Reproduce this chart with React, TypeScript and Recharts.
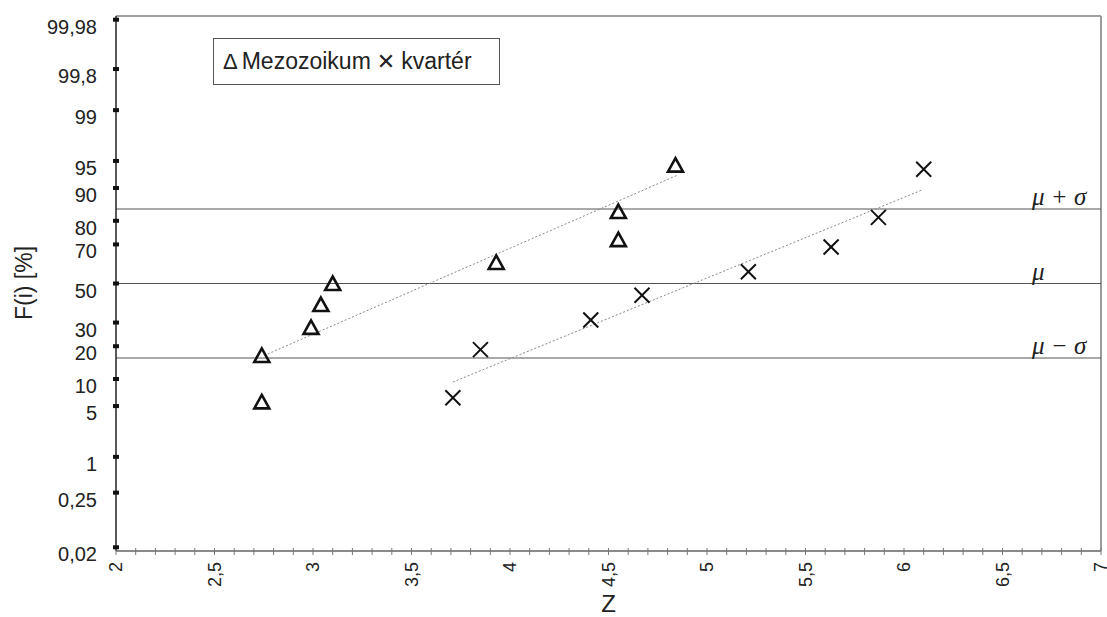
import React from 'react'
import { ScatterChart, Scatter, XAxis, YAxis, ReferenceLine, Legend } from 'recharts'

// Z values and cumulative frequencies F(i) in %
const mezozoikumZ = [2.74, 2.74, 2.99, 3.04, 3.1, 3.93, 4.55, 4.55, 4.84]
const mezozoikumF = [5.6, 16.7, 27.8, 38.9, 50, 61.1, 72.2, 83.3, 94.4]
const kvarterZ = [3.71, 3.85, 4.41, 4.67, 5.21, 5.63, 5.87, 6.1]
const kvarterF = [6.25, 18.75, 31.25, 43.75, 56.25, 68.75, 81.25, 93.75]

// fitted lines (end points)
const mezozoikumTrendZ = [2.77, 4.85]
const mezozoikumTrendF = [17.2, 92.7]
const kvarterTrendZ = [3.71, 6.09]
const kvarterTrendF = [9.3, 89.5]

// mu - sigma, mu, mu + sigma
const sigmaF = [15.87, 50, 84.13]
const sigmaLabels = ['μ − σ', 'μ', 'μ + σ']

const yTickF = [0.02, 0.25, 1, 5, 10, 20, 30, 50, 70, 80, 90, 95, 99, 99.8, 99.98]
const yTickLabels = ['0,02', '0,25', '1', '5', '10', '20', '30', '50', '70', '80', '90', '95', '99', '99,8', '99,98']
const xMajorTicks = [2, 2.5, 3, 3.5, 4, 4.5, 5, 5.5, 6, 6.5, 7]

const PLOT_LEFT = 116
const PLOT_BOTTOM = 551
const Y_MAX = 3.59

// inverse of the standard normal CDF (Acklam)
function probit(p: number): number {
  const a = [-39.69683028665376, 220.9460984245205, -275.9285104469687, 138.357751867269, -30.66479806614716, 2.506628277459239]
  const b = [-54.47609879822406, 161.5858368580409, -155.6989798598866, 66.80131188771972, -13.28068155288572]
  const c = [-0.007784894002430293, -0.3223964580411365, -2.400758277161838, -2.549732539343734, 4.374664141464968, 2.938163982698783]
  const d = [0.007784695709041462, 0.3224671290700398, 2.445134137142996, 3.754408661907416]
  const pl = 0.02425
  if (p < pl) {
    const q = Math.sqrt(-2 * Math.log(p))
    return (((((c[0] * q + c[1]) * q + c[2]) * q + c[3]) * q + c[4]) * q + c[5]) / ((((d[0] * q + d[1]) * q + d[2]) * q + d[3]) * q + 1)
  }
  if (p > 1 - pl) {
    const q = Math.sqrt(-2 * Math.log(1 - p))
    return -(((((c[0] * q + c[1]) * q + c[2]) * q + c[3]) * q + c[4]) * q + c[5]) / ((((d[0] * q + d[1]) * q + d[2]) * q + d[3]) * q + 1)
  }
  const q = p - 0.5
  const r = q * q
  return (((((a[0] * r + a[1]) * r + a[2]) * r + a[3]) * r + a[4]) * r + a[5]) * q / (((((b[0] * r + b[1]) * r + b[2]) * r + b[3]) * r + b[4]) * r + 1)
}

const toPoints = (zs: number[], fs: number[]) => zs.map((z, i) => ({ z, q: probit(fs[i] / 100) }))

const mezozoikumData = toPoints(mezozoikumZ, mezozoikumF)
const kvarterData = toPoints(kvarterZ, kvarterF)
const mezozoikumTrend = toPoints(mezozoikumTrendZ, mezozoikumTrendF)
const kvarterTrend = toPoints(kvarterTrendZ, kvarterTrendF)
const yTicks = yTickF.map((f) => probit(f / 100))
const xTicks = Array.from({ length: 51 }, (_, i) => Math.round((2 + i * 0.1) * 10) / 10)

const fmt = (v: number) => String(v).replace('.', ',')

const YTick = (props: any) => {
  const { y, payload } = props
  const idx = yTicks.findIndex((t) => Math.abs(t - payload.value) < 1e-9)
  return (
    <g>
      <rect x={PLOT_LEFT - 3} y={y - 2} width={6} height={4} fill="#111" />
      <text x={97} y={y + 7} dy="0.35em" textAnchor="end" fontSize={20} fill="#222">
        {yTickLabels[idx]}
      </text>
    </g>
  )
}

const XTick = (props: any) => {
  const { x, payload } = props
  const v: number = payload.value
  const major = xMajorTicks.some((m) => Math.abs(m - v) < 1e-9)
  return (
    <g>
      <line x1={x} x2={x} y1={PLOT_BOTTOM - 3} y2={PLOT_BOTTOM + 4} stroke="#777" strokeWidth={1} />
      {major && (
        <text
          x={x}
          y={PLOT_BOTTOM + 11}
          dy="0.35em"
          textAnchor="end"
          transform={`rotate(-90 ${x} ${PLOT_BOTTOM + 11})`}
          fontSize={18}
          fill="#222"
        >
          {fmt(v)}
        </text>
      )}
    </g>
  )
}

const Triangle = (props: any) => {
  const { cx, cy } = props
  return (
    <polygon
      points={`${cx},${cy - 7} ${cx + 7.5},${cy + 6.5} ${cx - 7.5},${cy + 6.5}`}
      fill="none"
      stroke="#111"
      strokeWidth={2.6}
    />
  )
}

const Cross = (props: any) => {
  const { cx, cy } = props
  return (
    <g stroke="#111" strokeWidth={2}>
      <line x1={cx - 7.5} y1={cy - 7.5} x2={cx + 7.5} y2={cy + 7.5} />
      <line x1={cx - 7.5} y1={cy + 7.5} x2={cx + 7.5} y2={cy - 7.5} />
    </g>
  )
}

const NoDot = () => <g />

const LegendBox = () => (
  <div
    style={{
      width: 287,
      height: 47,
      boxSizing: 'border-box',
      border: '1px solid #555',
      background: '#fff',
      display: 'flex',
      alignItems: 'center',
      paddingLeft: 9,
      fontSize: 23,
      color: '#222',
      fontFamily: 'Liberation Sans, Arial, sans-serif',
      whiteSpace: 'nowrap',
    }}
  >
    <span style={{ fontSize: 22, marginRight: 4 }}>Δ</span>
    <span>Mezozoikum</span>
    <span style={{ fontSize: 22, margin: '0 6px', fontFamily: 'DejaVu Sans, sans-serif' }}>✕</span>
    <span>kvartér</span>
  </div>
)

export default function App(): React.ReactElement {
  return (
    <div style={{ position: 'absolute', left: 0, top: 0, fontFamily: 'Liberation Sans, Arial, sans-serif' }}>
      <ScatterChart width={1107} height={617} margin={{ top: 16, right: 6, bottom: 0, left: 0 }}>
        <XAxis
          dataKey="z"
          type="number"
          domain={[2, 7]}
          ticks={xTicks}
          interval={0}
          tick={<XTick />}
          tickLine={false}
          axisLine={{ stroke: '#8a8a8a', strokeWidth: 2 }}
          height={66}
          label={{ value: 'Z', position: 'insideBottom', offset: 5, fontSize: 24, fill: '#222' }}
        />
        <YAxis
          dataKey="q"
          type="number"
          domain={[-Y_MAX, Y_MAX]}
          ticks={yTicks}
          interval={0}
          allowDataOverflow
          tick={<YTick />}
          tickLine={false}
          axisLine={{ stroke: '#222', strokeWidth: 1.5 }}
          width={PLOT_LEFT}
          label={{
            content: () => (
              <text
                x={24}
                y={283}
                transform="rotate(-90 24 283)"
                textAnchor="middle"
                dy="0.35em"
                fontSize={23}
                fill="#222"
              >
                F(i) [%]
              </text>
            ),
          }}
        />
        <ReferenceLine y={Y_MAX} stroke="#444" strokeWidth={1.2} />
        <ReferenceLine x={7} stroke="#9a9a9a" strokeWidth={2} />
        {sigmaF.map((f, i) => (
          <ReferenceLine
            key={sigmaLabels[i]}
            y={probit(f / 100)}
            stroke="#555"
            strokeWidth={1.2}
            label={(p: any) => (
              <text
                x={1032}
                y={p.viewBox.y - 4}
                fontSize={25}
                fontStyle="italic"
                fontFamily="Liberation Serif, Times New Roman, serif"
                fill="#222"
              >
                {sigmaLabels[i]}
              </text>
            )}
          />
        ))}
        <Scatter
          data={mezozoikumTrend}
          line={{ stroke: '#888', strokeWidth: 1, strokeDasharray: '2 2' }}
          shape={<NoDot />}
          isAnimationActive={false}
          legendType="none"
        />
        <Scatter
          data={kvarterTrend}
          line={{ stroke: '#888', strokeWidth: 1, strokeDasharray: '2 2' }}
          shape={<NoDot />}
          isAnimationActive={false}
          legendType="none"
        />
        <Scatter name="Mezozoikum" data={mezozoikumData} shape={<Triangle />} isAnimationActive={false} />
        <Scatter name="kvartér" data={kvarterData} shape={<Cross />} isAnimationActive={false} />
        <Legend
          layout="horizontal"
          verticalAlign="middle"
          align="center"
          wrapperStyle={{ left: 213, top: 38, width: 'auto', height: 'auto' }}
          content={() => <LegendBox />}
        />
      </ScatterChart>
    </div>
  )
}
